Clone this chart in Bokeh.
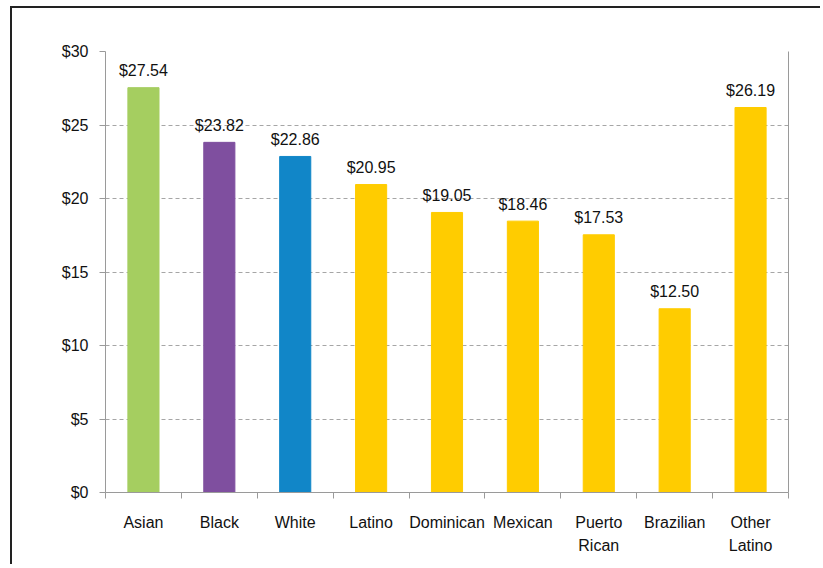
from bokeh.plotting import figure
from bokeh.models import ColumnDataSource, FixedTicker, LinearAxis, Range1d, NumeralTickFormatter
from bokeh.embed import file_html
from bokeh.resources import INLINE
from bokeh.core.properties import value

categories = ["Asian", "Black", "White", "Latino", "Dominican", "Mexican", "Puerto\nRican", "Brazilian", "Other\nLatino"]
wages = [27.54, 23.82, 22.86, 20.95, 19.05, 18.46, 17.53, 12.50, 26.19]
y_ticks = [0, 5, 10, 15, 20, 25, 30]

bar_colors = ["#A5CE60", "#7F4F9F", "#1186C8", "#FFCC00", "#FFCC00", "#FFCC00", "#FFCC00", "#FFCC00", "#FFCC00"]

n = len(categories)
centers = [i + 0.5 for i in range(n)]
source = ColumnDataSource(dict(
    x=centers,
    top=wages,
    color=bar_colors,
    label=["${:.2f}".format(v) for v in wages],
))

FONT = "Liberation Sans"

p = figure(width=810, height=558, output_backend="svg", toolbar_location=None,
           x_range=Range1d(0, n), y_range=Range1d(0, 30),
           min_border_left=93, min_border_top=43, min_border_right=34, min_border_bottom=74)
p.styles = {"border-left": "2px solid #222", "border-top": "2px solid #222",
            "margin-left": "10px", "margin-top": "6px"}
p.outline_line_color = None
p.background_fill_color = "white"
p.border_fill_color = "white"

p.vbar(x="x", top="top", width=0.41, color="color", source=source)
p.text(x="x", y="top", text="label", source=source, text_align="center",
       text_baseline="alphabetic", y_offset=-17, text_font=value(FONT),
       text_font_size="16px", text_color="#111111")

# y axis
yax = p.yaxis[0]
yax.ticker = FixedTicker(ticks=y_ticks)
yax.formatter = NumeralTickFormatter(format="$0")
yax.axis_line_color = "#9a9a9a"
yax.major_tick_line_color = "#9a9a9a"
yax.major_tick_out = 6
yax.major_tick_in = 0
yax.minor_tick_line_color = None
yax.major_label_standoff = 11
yax.major_label_text_font = FONT
yax.major_label_text_font_size = "16px"
yax.major_label_text_color = "#111111"

# x axis
xax = p.xaxis[0]
xax.ticker = FixedTicker(ticks=centers, minor_ticks=list(range(n + 1)))
xax.major_label_overrides = {c: lab for c, lab in zip(centers, categories)}
xax.axis_line_color = "#9a9a9a"
xax.major_tick_line_color = None
xax.major_tick_out = 6
xax.major_tick_in = 0
xax.minor_tick_line_color = "#9a9a9a"
xax.minor_tick_out = 6
xax.minor_tick_in = 0
xax.major_label_standoff = 15
xax.major_label_text_font = FONT
xax.major_label_text_font_size = "16px"
xax.major_label_text_color = "#111111"
xax.major_label_text_line_height = 1.4

# right frame edge
rax = LinearAxis(ticker=FixedTicker(ticks=[]), axis_line_color="#9a9a9a",
                 major_tick_line_color=None, minor_tick_line_color=None)
p.add_layout(rax, "right")

p.xgrid.grid_line_color = None
p.ygrid.ticker = FixedTicker(ticks=y_ticks)
p.ygrid.grid_line_color = "#a6a6a6"
p.ygrid.grid_line_dash = "4 3"
p.ygrid.grid_line_width = 1

open("out.html", "w").write(file_html(p, INLINE))
